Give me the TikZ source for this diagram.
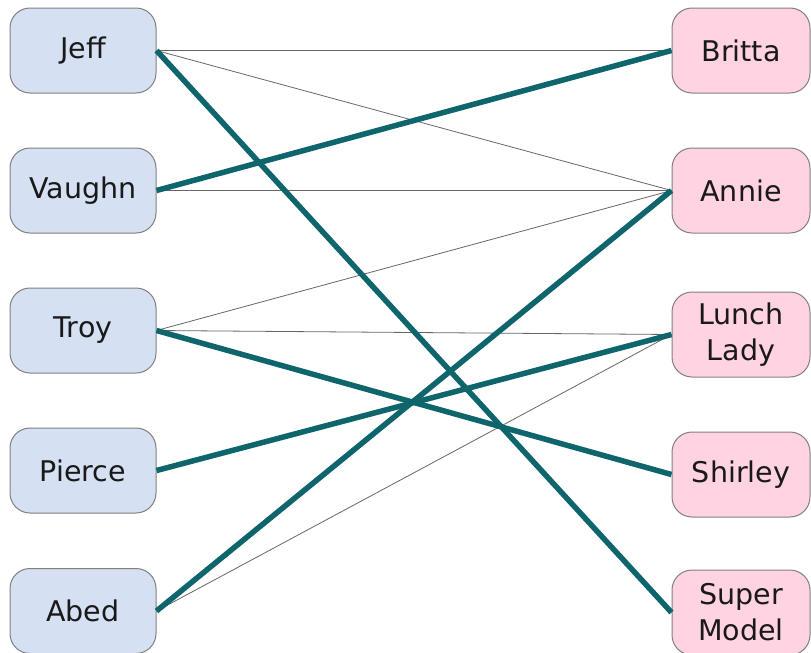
\documentclass[tikz,border=0pt]{standalone}
\usepackage{fontspec}
\setmainfont{DejaVu Sans}
\definecolor{leftfill}{HTML}{D5E0F3}
\definecolor{rightfill}{HTML}{FFD3E1}
\definecolor{nodeline}{HTML}{808080}
\definecolor{teal}{HTML}{0E656B}
\begin{document}
\begin{tikzpicture}[x=1pt,y=-1pt,
  base/.style={draw=nodeline, line width=1pt, rounded corners=20pt, align=center,
    font=\fontsize{28.5}{36}\selectfont, inner sep=0pt, text=black!90},
  lnode/.style={base, fill=leftfill, minimum width=146pt, minimum height=85pt},
  rnode/.style={base, fill=rightfill, minimum width=138pt, minimum height=85pt},
  thin/.style={draw=black!60, line width=0.8pt},
  thick/.style={draw=teal, line width=5.5pt}]
\useasboundingbox (0,0) rectangle (811,653);
\node[lnode] (jeff) at (83,50.5) {Jeff};
\node[lnode] (vaughn) at (83,190.5) {Vaughn};
\node[lnode] (troy) at (83,330.5) {Troy};
\node[lnode] (pierce) at (83,470.5) {Pierce};
\node[lnode] (abed) at (83,611) {Abed};
\node[rnode] (britta) at (741,50.5) {Britta};
\node[rnode] (annie) at (741,190.5) {Annie};
\node[rnode] (lunch) at (741,334.5) {Lunch\\Lady};
\node[rnode] (shirley) at (741,474.5) {Shirley};
\node[rnode] (super) at (741,612.5) {Super\\Model};
\draw[thin] (jeff.east) -- (britta.west);
\draw[thin] (jeff.east) -- (annie.west);
\draw[thin] (vaughn.east) -- (annie.west);
\draw[thin] (troy.east) -- (annie.west);
\draw[thin] (troy.east) -- (lunch.west);
\draw[thin] (abed.east) -- (lunch.west);
\draw[thick] (jeff.east) -- (super.west);
\draw[thick] (vaughn.east) -- (britta.west);
\draw[thick] (troy.east) -- (shirley.west);
\draw[thick] (pierce.east) -- (lunch.west);
\draw[thick] (abed.east) -- (annie.west);
\end{tikzpicture}
\end{document}
